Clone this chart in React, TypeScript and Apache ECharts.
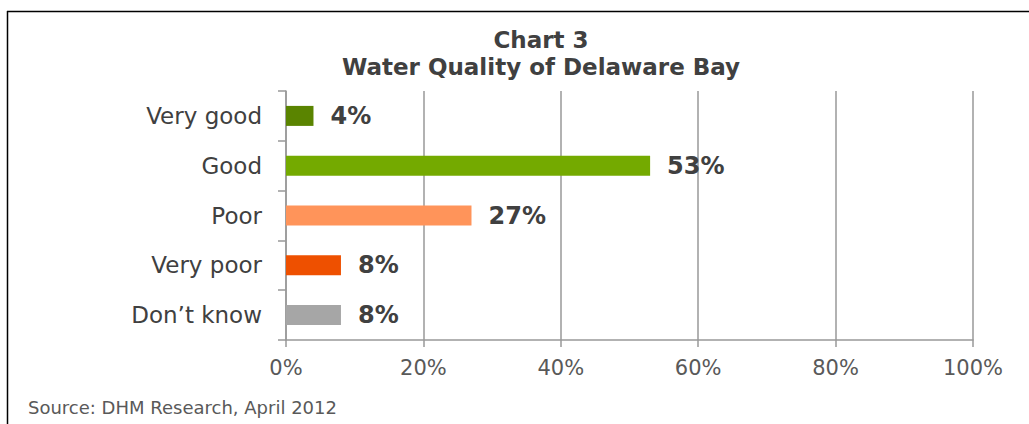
import React, { useEffect, useRef } from "react";
import * as echarts from "echarts";

const categories = ["Very good", "Good", "Poor", "Very poor", "Don\u2019t know"];
const values = [4, 53, 27, 8, 8];
const barColors = ["#5a8400", "#74aa00", "#ff945a", "#ee5000", "#a6a6a6"];
const xTicks = [0, 20, 40, 60, 80, 100];
const titleLines = ["Chart 3", "Water Quality of Delaware Bay"];
const sourceText = "Source: DHM Research, April 2012";

const FONT = "DejaVu Sans";

export default function App() {
  const ref = useRef<HTMLDivElement>(null);
  useEffect(() => {
    if (!ref.current) return;
    const chart = echarts.init(ref.current, null, { renderer: "svg" });
    const titleStyle = {
      fontFamily: FONT,
      fontSize: 23,
      fontWeight: "bold",
      color: "#404040",
    };
    chart.setOption({
      animation: false,
      backgroundColor: "#ffffff",
      title: titleLines.map((t, i) => ({
        text: t,
        left: 541,
        top: 28 + i * 27,
        textAlign: "center",
        padding: 0,
        textStyle: titleStyle,
      })),
      grid: { left: 286, right: 56, top: 91, bottom: 84, containLabel: false },
      xAxis: {
        type: "value",
        min: xTicks[0],
        max: xTicks[xTicks.length - 1],
        interval: 20,
        axisLine: { show: true, lineStyle: { color: "#999999", width: 1.5 } },
        axisTick: { show: true, length: 7, lineStyle: { color: "#999999", width: 1.5 } },
        splitLine: { show: true, lineStyle: { color: "#999999", width: 1.5 } },
        axisLabel: {
          formatter: "{value}%",
          fontFamily: FONT,
          fontSize: 21,
          color: "#595959",
          margin: 17,
        },
      },
      yAxis: {
        type: "category",
        inverse: true,
        data: categories,
        axisLine: { show: true, lineStyle: { color: "#999999", width: 1.5 } },
        axisTick: { show: true, length: 8, lineStyle: { color: "#999999", width: 1.5 } },
        axisLabel: {
          fontFamily: FONT,
          fontSize: 23,
          color: "#404040",
          margin: 24,
        },
      },
      series: [
        {
          type: "bar",
          barWidth: 20,
          data: values.map((v, i) => ({ value: v, itemStyle: { color: barColors[i] } })),
          label: {
            show: true,
            position: "right",
            distance: 17,
            formatter: "{c}%",
            fontFamily: FONT,
            fontSize: 24,
            fontWeight: "bold",
            color: "#404040",
          },
        },
      ],
      graphic: [
        {
          type: "line",
          shape: { x1: 7, y1: 11.5, x2: 1029, y2: 11.5 },
          style: { stroke: "#000000", lineWidth: 1.5 },
        },
        {
          type: "line",
          shape: { x1: 7.5, y1: 11, x2: 7.5, y2: 424 },
          style: { stroke: "#000000", lineWidth: 1.5 },
        },
        {
          type: "text",
          left: 28,
          top: 398,
          style: {
            text: sourceText,
            fontFamily: FONT,
            fontSize: 18,
            fill: "#595959",
          },
        },
      ],
    });
    return () => chart.dispose();
  }, []);
  return (
    <div
      ref={ref}
      style={{ position: "fixed", left: 0, top: 0, width: 1029, height: 424 }}
    />
  );
}
